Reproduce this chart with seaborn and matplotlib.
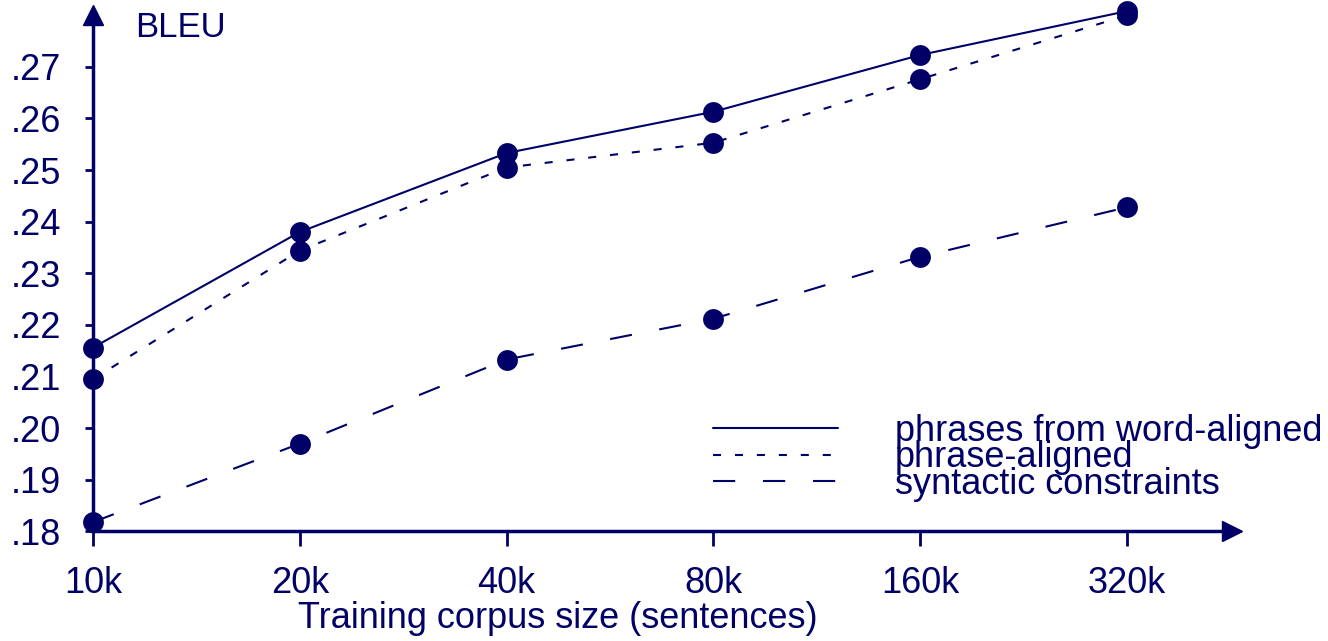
import seaborn as sns
import matplotlib.pyplot as plt
import pandas as pd
from matplotlib.lines import Line2D

# dados
corpus_sizes = ['10k', '20k', '40k', '80k', '160k', '320k']
word_aligned = [0.2156, 0.2380, 0.2533, 0.2613, 0.2723, 0.2808]
phrase_aligned = [0.2095, 0.2344, 0.2505, 0.2553, 0.2676, 0.2800]
syntactic = [0.1818, 0.1970, 0.2133, 0.2212, 0.2332, 0.2428]
series_names = ['phrases from word-aligned', 'phrase-aligned', 'syntactic constraints']
y_ticks = [0.18, 0.19, 0.20, 0.21, 0.22, 0.23, 0.24, 0.25, 0.26, 0.27]
y_labels = ['.18', '.19', '.20', '.21', '.22', '.23', '.24', '.25', '.26', '.27']

navy = '#000066'

sns.set_theme(style='white')
plt.rcParams['font.family'] = ['Liberation Sans', 'DejaVu Sans']
plt.rcParams['lines.scale_dashes'] = False

rows = []
for name, vals in zip(series_names, [word_aligned, phrase_aligned, syntactic]):
    for i, v in enumerate(vals):
        rows.append({'pos': i, 'bleu': v, 'system': name})
df = pd.DataFrame(rows)

dash_styles = {series_names[0]: '', series_names[1]: (5.8, 10), series_names[2]: (16, 20)}

fig = plt.figure(figsize=(13.28, 6.41), dpi=100)
ax = fig.add_axes([0.070, 0.171, 0.858, 0.806])

sns.lineplot(data=df, x='pos', y='bleu', style='system', dashes=dash_styles,
             markers={n: 'o' for n in series_names}, color=navy, linewidth=1.5,
             markersize=15, markeredgewidth=0, legend=False, ax=ax, clip_on=False)

ax.set_xlim(0, 5.51)
ax.set_ylim(0.18, 0.2801)
ax.set_xticks(range(len(corpus_sizes)))
ax.set_xticklabels(corpus_sizes)
ax.set_yticks(y_ticks)
ax.set_yticklabels(y_labels)
ax.tick_params(axis='x', direction='out', length=11, width=2, color=navy,
               labelcolor=navy, labelsize=26, pad=14, bottom=True)
ax.tick_params(axis='y', direction='out', length=6, width=2, color=navy,
               labelcolor=navy, labelsize=26, pad=17, left=True)

for s in ['top', 'right']:
    ax.spines[s].set_visible(False)
for s in ['left', 'bottom']:
    ax.spines[s].set_color(navy)
    ax.spines[s].set_linewidth(2.5)

# setas nos eixos
ax.plot(1, 0, '>', color=navy, markersize=14, transform=ax.transAxes, clip_on=False)
ax.plot(0, 1, '^', color=navy, markersize=14, transform=ax.transAxes, clip_on=False)

ax.set_xlabel('Training corpus size (sentences)', fontsize=26, color=navy,
              labelpad=0, x=0.408)
ax.set_ylabel('')
ax.text(0.037, 0.975, 'BLEU', transform=ax.transAxes, fontsize=25,
        color=navy, va='center', ha='left')

handles = [Line2D([], [], color=navy, linewidth=1.5, dashes=dash_styles[n])
           if dash_styles[n] else Line2D([], [], color=navy, linewidth=1.5)
           for n in series_names]
ax.legend(handles, series_names, loc='upper left', bbox_to_anchor=(0.544, 0.228),
          frameon=False, fontsize=26, labelcolor=navy, handlelength=3.47,
          handletextpad=1.58, labelspacing=-0.23, borderpad=0, borderaxespad=0)

fig.savefig('out.png', dpi=100)
